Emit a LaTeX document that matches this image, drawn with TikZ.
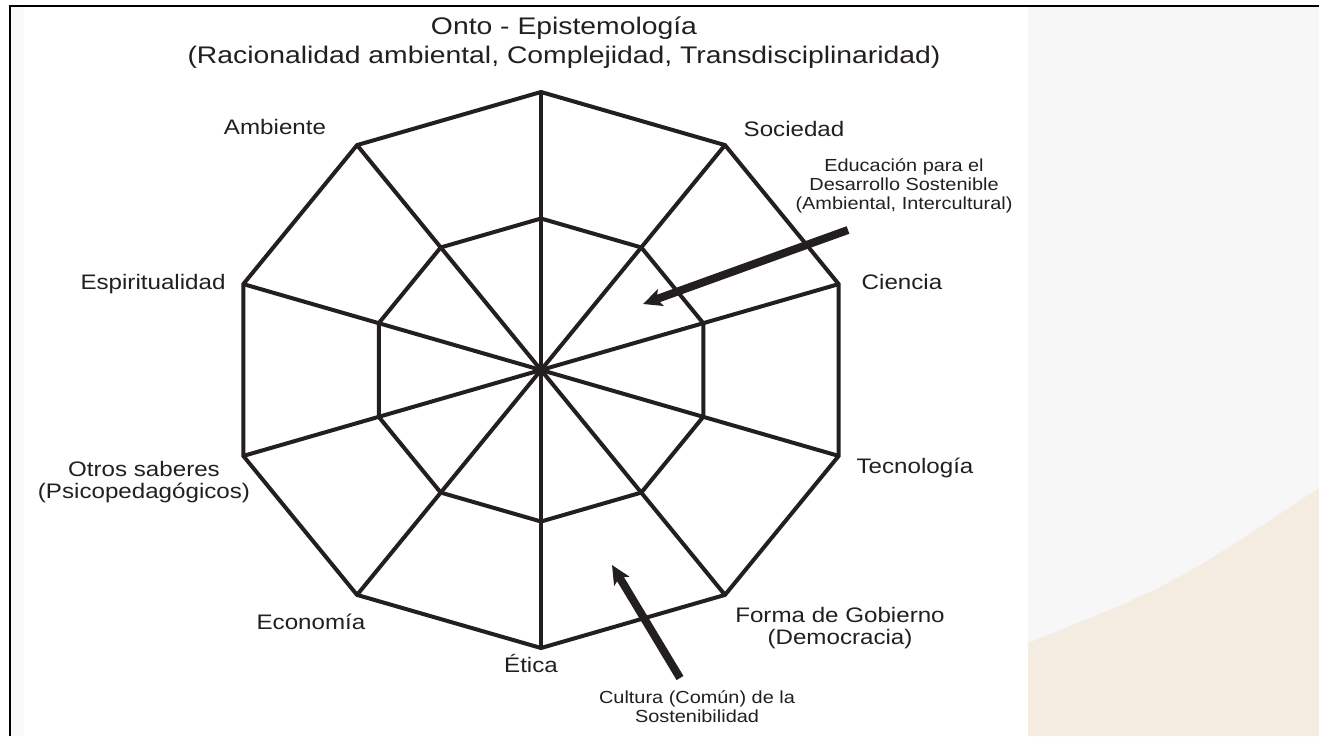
\documentclass[tikz,border=0pt]{standalone}
\usepackage{fontspec}
\setmainfont{Liberation Sans}
\newfontfamily\labfont{Liberation Sans}[FakeStretch=1.15]
\newfontfamily\titfont{Liberation Sans}[FakeStretch=1.18]
\newfontfamily\notefont{Liberation Sans}[FakeStretch=1.14]
\usetikzlibrary{arrows.meta}
\definecolor{ink}{HTML}{231F20}
\definecolor{cream}{HTML}{F4ECE1}
\definecolor{panel}{HTML}{F7F7F7}
\definecolor{strip}{HTML}{FAFAFA}
\begin{document}
\begin{tikzpicture}[x=0.75pt,y=-0.75pt,
  web/.style={draw=ink, line width=3pt, line join=miter},
  lbl/.style={text=ink, font=\labfont\fontsize{15.75}{16.5}\selectfont, inner sep=0pt, align=center},
  ttl/.style={text=ink, font=\titfont\fontsize{18}{21.75}\selectfont, inner sep=0pt, align=center},
  note/.style={text=ink, font=\notefont\fontsize{13.1}{14.25}\selectfont, inner sep=0pt, align=center},
  pointer/.style={draw=ink, line width=6pt, -{Stealth[length=14pt,width=13pt,inset=3pt]}},
]
% background
\useasboundingbox (0,0) rectangle (1319,736);
\fill[white] (0,0) rectangle (1319,736);
\fill[strip] (11,7) rectangle (24,736);
\fill[panel] (1028,7) rectangle (1319,736);
\fill[cream] (1028,643) .. controls (1173,585) .. (1319,488) -- (1319,736) -- (1028,736) -- cycle;
\draw[black, line width=1.9pt] (10,736) -- (10,6) -- (1319,6);

% geometry
\coordinate (O) at (541,370);
\foreach \i in {0,...,9}{
  \pgfmathsetmacro{\a}{90-36*\i}
  \coordinate (V\i) at ({541+313*cos(\a)},{370-278*sin(\a)});
  \coordinate (W\i) at ({541+170.6*cos(\a)},{370-151.5*sin(\a)});
}
\draw[web] (V0) -- (V1) -- (V2) -- (V3) -- (V4) -- (V5) -- (V6) -- (V7) -- (V8) -- (V9) -- cycle;
\draw[web] (W0) -- (W1) -- (W2) -- (W3) -- (W4) -- (W5) -- (W6) -- (W7) -- (W8) -- (W9) -- cycle;
\foreach \i in {0,...,9}{ \draw[web] (O) -- (V\i); }

% title
\node[ttl] (title) at (564,42.3) {Onto - Epistemología\\(Racionalidad ambiental, Complejidad, Transdisciplinaridad)};

% labels
\node[lbl, anchor=base] (amb) at (275,134) {Ambiente};
\node[lbl, anchor=base] (soc) at (794,136) {Sociedad};
\node[lbl, anchor=base] (cie) at (902,289) {Ciencia};
\node[lbl, anchor=base] (esp) at (153,289) {Espiritualidad};
\node[lbl, anchor=base] (tec) at (915,473) {Tecnología};
\node[lbl] (otr) at (144,482) {Otros saberes\\(Psicopedagógicos)};
\node[lbl, anchor=base] (eco) at (311,629) {Economía};
\node[lbl, anchor=base] (eti) at (531,672) {Ética};
\node[lbl] (gob) at (840,628.5) {Forma de Gobierno\\(Democracia)};

% annotations
\node[note] (eds) at (904,185.5) {Educación para el\\Desarrollo Sostenible\\(Ambiental, Intercultural)};
\node[note] (cul) at (697,707) {Cultura (Común) de la\\Sostenibilidad};
\coordinate (a1s) at (848,230);
\coordinate (a1e) at (643,304);
\coordinate (a2s) at (680,678);
\coordinate (a2e) at (612,565);
\draw[pointer] (a1s) -- (a1e);
\draw[pointer] (a2s) -- (a2e);
\end{tikzpicture}
\end{document}
